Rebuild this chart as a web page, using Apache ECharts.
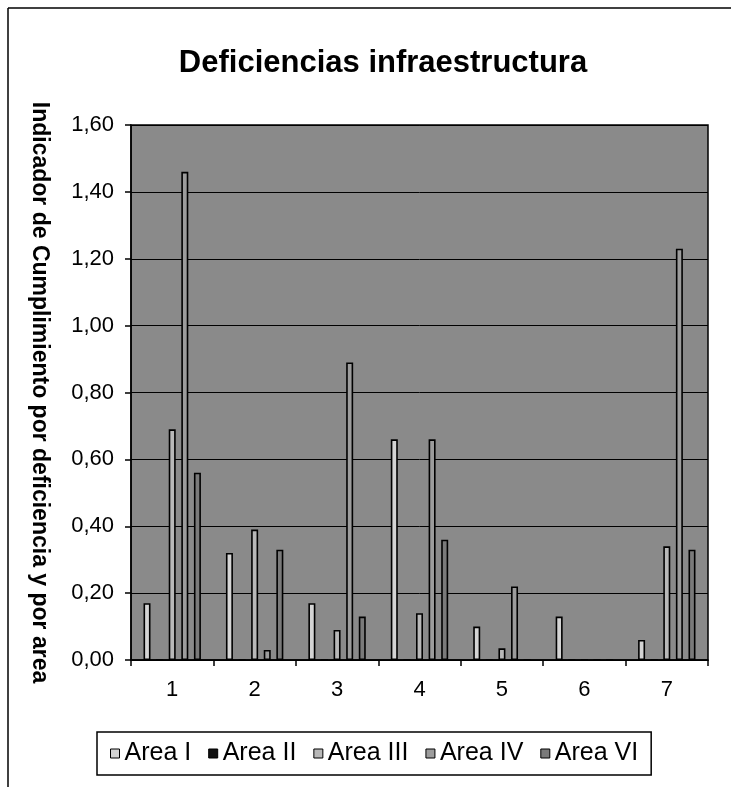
<!DOCTYPE html>
<html>
<head>
<meta charset="utf-8">
<script src="https://cdn.jsdelivr.net/npm/echarts@6/dist/echarts.min.js"></script>
<style>
html,body{margin:0;padding:0;background:#fff;}
#chart{width:731px;height:787px;}
</style>
</head>
<body>
<div id="chart"></div>
<script>
var categories = ['1','2','3','4','5','6','7'];
var seriesNames = ['Area I','Area II','Area III','Area IV','Area VI'];
var areaI   = [0.17, 0.32, 0.17, 0.66, 0.10, 0.13, 0.06];
var areaII  = [0, 0, 0, 0, 0, 0, 0];
var areaIII = [0.69, 0.39, 0.09, 0.14, 0.035, 0, 0.34];
var areaIV  = [1.46, 0.03, 0.89, 0.66, 0.22, 0, 1.23];
var areaVI  = [0.56, 0.33, 0.13, 0.36, 0, 0, 0.33];
var yTickLabels = ['0,00','0,20','0,40','0,60','0,80','1,00','1,20','1,40','1,60'];

var seriesData = [areaI, areaII, areaIII, areaIV, areaVI];
var seriesColors = ['#d4d4d4', '#111111', '#b8b8b8', '#9c9c9c', '#7a7a7a'];
var FONT = 'Liberation Sans, Arial, Helvetica, sans-serif';

var chart = echarts.init(document.getElementById('chart'));
var option = {
  animation: false,
  backgroundColor: '#ffffff',
  textStyle: { fontFamily: FONT, color: '#000' },
  title: {
    text: 'Deficiencias infraestructura',
    left: 378, top: 43, textAlign: 'center',
    textStyle: { fontFamily: FONT, fontSize: 31, fontWeight: 'bold', color: '#000' }
  },
  graphic: [
    { type: 'line', shape: { x1: 8, y1: 8, x2: 731, y2: 8 }, style: { stroke: '#000', lineWidth: 1.5 } },
    { type: 'line', shape: { x1: 8, y1: 8, x2: 8, y2: 787 }, style: { stroke: '#000', lineWidth: 1.5 } }
  ],
  legend: {
    data: seriesNames,
    left: 97, top: 732,
    orient: 'horizontal',
    borderColor: '#000', borderWidth: 1.5,
    padding: [9, 13, 9, 13],
    itemWidth: 9, itemHeight: 9, itemGap: 17,
    icon: 'rect',
    textStyle: { fontFamily: FONT, fontSize: 25, color: '#000' },
    itemStyle: { borderColor: '#000', borderWidth: 1 }
  },
  grid: { left: 131, right: 23, top: 125, bottom: 127, show: true, backgroundColor: '#8a8a8a', borderColor: '#000', borderWidth: 1.5 },
  xAxis: {
    type: 'category',
    data: categories,
    axisLine: { lineStyle: { color: '#000', width: 1.5 } },
    axisTick: { show: true, length: 6, lineStyle: { color: '#000', width: 1.5 } },
    axisLabel: { fontFamily: FONT, fontSize: 22, color: '#000', margin: 19 }
  },
  yAxis: {
    type: 'value',
    min: 0, max: 1.6, interval: 0.2,
    name: 'Indicador de Cumplimiento por deficiencia y por area',
    nameLocation: 'middle', nameRotate: -90, nameGap: 80,
    nameTextStyle: { fontFamily: FONT, fontSize: 23, fontWeight: 'bold', color: '#000' },
    axisLine: { show: true, lineStyle: { color: '#000', width: 1.5 } },
    axisTick: { show: true, length: 6, lineStyle: { color: '#000', width: 1.5 } },
    axisLabel: {
      fontFamily: FONT, fontSize: 22, color: '#000', margin: 17,
      formatter: function (v) { return yTickLabels[Math.round(v / 0.2)]; }
    },
    splitLine: { show: true, lineStyle: { color: '#000', width: 1 } }
  },
  series: seriesNames.map(function (name, i) {
    return {
      name: name,
      type: 'bar',
      data: seriesData[i],
      barWidth: 7,
      barGap: '80%',
      itemStyle: { color: seriesColors[i], borderColor: '#000', borderWidth: 1.6 }
    };
  })
};
chart.setOption(option);
</script>
</body>
</html>
